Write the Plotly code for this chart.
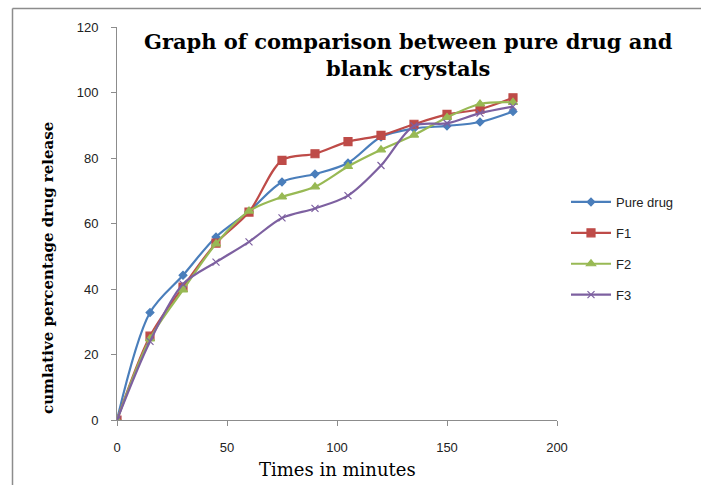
import plotly.graph_objects as go

times = [0, 15, 30, 45, 60, 75, 90, 105, 120, 135, 150, 165, 180]
pure_drug = [0, 32.8, 44.2, 55.9, 63.7, 72.7, 75.1, 78.5, 86.4, 89.0, 89.8, 91.0, 94.2]
f1 = [0, 25.6, 40.6, 54.0, 63.5, 79.3, 81.3, 85.0, 86.9, 90.3, 93.3, 94.9, 98.4]
f2 = [0, 24.8, 39.7, 53.8, 63.8, 68.1, 71.2, 77.4, 82.5, 87.0, 92.4, 96.5, 97.0]
f3 = [0, 24.0, 41.5, 48.2, 54.4, 61.7, 64.6, 68.5, 77.7, 89.8, 90.6, 93.7, 95.7]

series_names = ["Pure drug", "F1", "F2", "F3"]
series_values = [pure_drug, f1, f2, f3]
colors = ["#4A7EBB", "#BE4B48", "#98B954", "#7D60A0"]
symbols = ["diamond", "square", "triangle-up", "x-thin"]
sizes = [6, 8, 8, 7]

x_ticks = [0, 50, 100, 150, 200]
y_ticks = [0, 20, 40, 60, 80, 100, 120]

fig = go.Figure()
for i, (name, vals) in enumerate(zip(series_names, series_values)):
    fig.add_trace(go.Scatter(
        x=times, y=vals, name=name, mode="lines+markers",
        line=dict(color=colors[i], width=2.2, shape="spline", smoothing=0.9),
        marker=dict(symbol=symbols[i], size=sizes[i], color=colors[i],
                    line=dict(color=colors[i], width=1.2)),
        legendgroup=name,
    ))

L, R, T, B = 117, 144, 27, 65
W, H = 701, 485
pw, ph = W - L - R, H - T - B

def px_x(p):
    return (p - L) / pw

def px_y(p):
    return 1 - (p - T) / ph

serif = "DejaVu Serif, Liberation Serif, serif"

fig.update_layout(
    width=W, height=H,
    margin=dict(l=L, r=R, t=T, b=B),
    paper_bgcolor="white", plot_bgcolor="white",
    showlegend=True,
    legend=dict(x=px_x(566), y=px_y(187), xanchor="left", yanchor="top",
                font=dict(family="Liberation Sans, Arial", size=13, color="#222"),
                tracegroupgap=11, itemwidth=40, bgcolor="rgba(0,0,0,0)"),
    xaxis=dict(range=[0, 200], tickvals=x_ticks, showgrid=False, zeroline=False,
               showline=True, linecolor="#8c8c8c", linewidth=1,
               ticks="outside", ticklen=5, tickcolor="#8c8c8c",
               ticklabelstandoff=10,
               tickfont=dict(family="Liberation Sans, Arial", size=13, color="#222")),
    yaxis=dict(range=[0, 120], tickvals=y_ticks, showgrid=False, zeroline=False,
               showline=True, linecolor="#8c8c8c", linewidth=1,
               ticks="outside", ticklen=5, tickcolor="#8c8c8c",
               ticklabelstandoff=10,
               tickfont=dict(family="Liberation Sans, Arial", size=13, color="#222")),
    annotations=[
        dict(text="<b>Graph of comparison between pure drug and</b>",
             xref="paper", yref="paper", x=px_x(408), y=px_y(42),
             xanchor="center", yanchor="middle", showarrow=False,
             font=dict(family=serif, size=21, color="black")),
        dict(text="<b>blank crystals</b>",
             xref="paper", yref="paper", x=px_x(408), y=px_y(68),
             xanchor="center", yanchor="middle", showarrow=False,
             font=dict(family=serif, size=21, color="black")),
        dict(text="<b>cumlative percentage drug release</b>",
             xref="paper", yref="paper", x=px_x(48), y=px_y(268),
             xanchor="center", yanchor="middle", showarrow=False, textangle=-90,
             font=dict(family=serif, size=15, color="black")),
        dict(text="Times in minutes",
             xref="paper", yref="paper", x=px_x(337), y=px_y(470),
             xanchor="center", yanchor="middle", showarrow=False,
             font=dict(family=serif, size=18, color="black")),
    ],
    shapes=[
        dict(type="line", xref="paper", yref="paper",
             x0=px_x(12.5), x1=px_x(12.5), y0=px_y(8.5), y1=px_y(520),
             line=dict(color="#8c8c8c", width=1.5)),
        dict(type="line", xref="paper", yref="paper",
             x0=px_x(12.5), x1=px_x(720), y0=px_y(8.5), y1=px_y(8.5),
             line=dict(color="#8c8c8c", width=1.5)),
    ],
)

fig.write_html("out.html")
